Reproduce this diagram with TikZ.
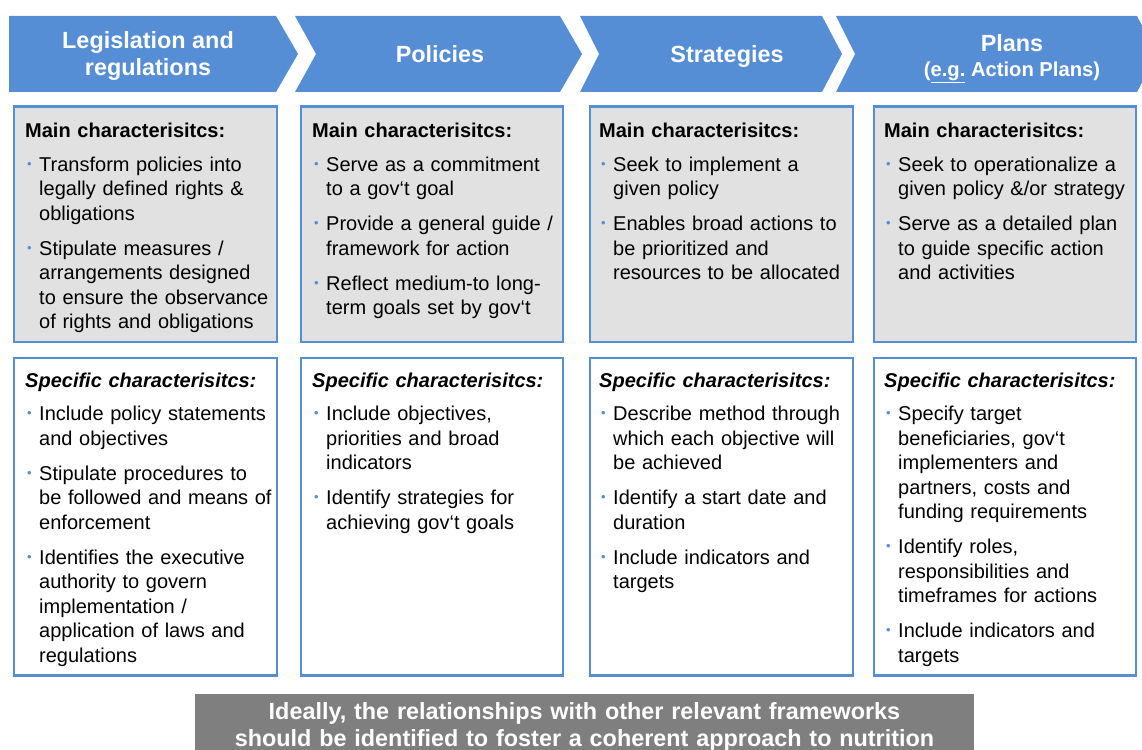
\documentclass[tikz,border=0pt]{standalone}
\usepackage{fontspec}
\setmainfont{Liberation Sans}
\definecolor{hdrblue}{HTML}{558ED5}
\definecolor{boxgray}{HTML}{E1E1E1}
\definecolor{bangray}{HTML}{7F7F7F}
\newcommand{\bitem}[1]{\par\hangindent=14pt\hangafter=1\noindent\makebox[14pt][l]{\hspace{2pt}\raisebox{2.8pt}{\textcolor{hdrblue}{\fontsize{13}{13}\selectfont\textbullet}}}{\let\\\newline#1}\par}
\newcommand{\gapitem}{\vspace{10.5pt}}
\newcommand{\headgap}{\par\vspace{9pt}}
\tikzset{
  boxframe/.style={draw=hdrblue, line width=2.5pt, inner sep=0pt, anchor=north west},
  graybox/.style={boxframe, fill=boxgray, minimum height=235pt},
  whitebox/.style={boxframe, fill=white, minimum height=317.5pt},
  body/.style={anchor=base west, inner sep=0pt, text width=265pt, align=left, font=\fontsize{20}{24.5}\selectfont},
  hdr/.style={anchor=base, inner sep=0pt, text=white, font=\bfseries\fontsize{23.4}{27}\selectfont},
  chev/.style={fill=hdrblue, draw=none}
}
\begin{document}
\begin{tikzpicture}[x=1pt,y=-1pt]
\useasboundingbox (0,0) rectangle (1142,749);
\clip (0,0) rectangle (1142,749);

% chevrons
\fill[chev] (9,16) -- (276,16) -- (298,54) -- (276,92) -- (9,92) -- cycle;
\fill[chev] (295,16) -- (560,16) -- (582,54) -- (560,92) -- (295,92) -- (316,54) -- cycle;
\fill[chev] (580,16) -- (822,16) -- (842,54) -- (822,92) -- (580,92) -- (599,54) -- cycle;
\fill[chev] (836,16) -- (1137,16) -- (1157,54) -- (1137,92) -- (836,92) -- (855,54) -- cycle;

\node[hdr] (hL1) at (148,49) {Legislation and};
\node[hdr] (hL2) at (148,76) {regulations};
\node[hdr] (hP) at (440,63) {Policies};
\node[hdr] (hS) at (727,63) {Strategies};
\node[hdr] (hPl1) at (1012,52) {Plans};
\node[hdr, font=\bfseries\fontsize{20.2}{24}\selectfont] (hPl2) at (1012,77) {(\underline{e.g.} Action Plans)};

% boxes
\node[graybox, minimum width=263pt] (g1) at (12.5,105.5) {};
\node[graybox, minimum width=262pt] (g2) at (299.5,105.5) {};
\node[graybox, minimum width=263pt] (g3) at (588.5,105.5) {};
\node[graybox, minimum width=262pt] (g4) at (872.5,105.5) {};
\node[whitebox, minimum width=263pt] (w1) at (12.5,356.5) {};
\node[whitebox, minimum width=262pt] (w2) at (299.5,356.5) {};
\node[whitebox, minimum width=263pt] (w3) at (588.5,356.5) {};
\node[whitebox, minimum width=262pt] (w4) at (872.5,356.5) {};

% gray box texts
\node[body] (tg1) at (25,137.5) {\textbf{Main characterisitcs:}\headgap
\bitem{Transform policies into\\legally defined rights \&\\obligations}\gapitem
\bitem{Stipulate measures /\\arrangements designed\\to ensure the observance\\of rights and obligations}};
\node[body] (tg2) at (312,137.5) {\textbf{Main characterisitcs:}\headgap
\bitem{Serve as a commitment\\to a gov‘t goal}\gapitem
\bitem{Provide a general guide /\\framework for action}\gapitem
\bitem{Reflect medium-to long-\\term goals set by gov‘t}};
\node[body] (tg3) at (599,137.5) {\textbf{Main characterisitcs:}\headgap
\bitem{Seek to implement a\\given policy}\gapitem
\bitem{Enables broad actions to\\be prioritized and\\resources to be allocated}};
\node[body] (tg4) at (884,137.5) {\textbf{Main characterisitcs:}\headgap
\bitem{Seek to operationalize a\\given policy \&/or strategy}\gapitem
\bitem{Serve as a detailed plan\\to guide specific action\\and activities}};

% white box texts
\node[body] (tw1) at (25,387) {\textbf{\itshape Specific characterisitcs:}\headgap
\bitem{Include policy statements\\and objectives}\gapitem
\bitem{Stipulate procedures to\\be followed and means of\\enforcement}\gapitem
\bitem{Identifies the executive\\authority to govern\\implementation /\\application of laws and\\regulations}};
\node[body] (tw2) at (312,387) {\textbf{\itshape Specific characterisitcs:}\headgap
\bitem{Include objectives,\\priorities and broad\\indicators}\gapitem
\bitem{Identify strategies for\\achieving gov‘t goals}};
\node[body] (tw3) at (599,387) {\textbf{\itshape Specific characterisitcs:}\headgap
\bitem{Describe method through\\which each objective will\\be achieved}\gapitem
\bitem{Identify a start date and\\duration}\gapitem
\bitem{Include indicators and\\targets}};
\node[body] (tw4) at (884,387) {\textbf{\itshape Specific characterisitcs:}\headgap
\bitem{Specify target\\beneficiaries, gov‘t\\implementers and\\partners, costs and\\funding requirements}\gapitem
\bitem{Identify roles,\\responsibilities and\\timeframes for actions}\gapitem
\bitem{Include indicators and\\targets}};

% banner
\node[fill=bangray, inner sep=0pt, minimum width=779pt, minimum height=70pt, anchor=north west] (ban) at (195,694) {};
\node[anchor=base, inner sep=0pt, text width=770pt, align=center, text=white, font=\bfseries\fontsize{23.4}{27}\selectfont] (bantext) at (584.5,719) {Ideally, the relationships with other relevant frameworks\\should be identified to foster a coherent approach to nutrition};
\end{tikzpicture}
\end{document}
